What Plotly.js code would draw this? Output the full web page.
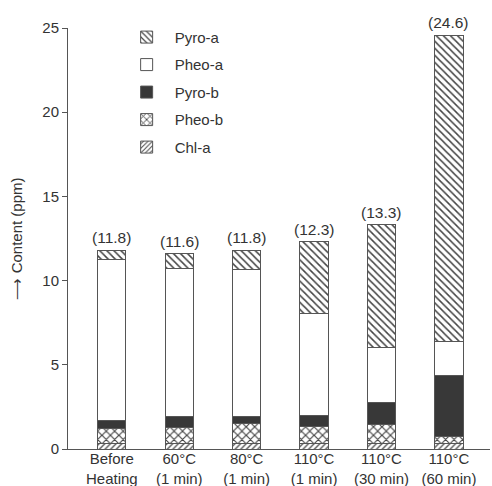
<!DOCTYPE html>
<html>
<head>
<meta charset="utf-8">
<script src="https://cdn.plot.ly/plotly-3.0.1.min.js"></script>
<style>html,body{margin:0;padding:0;background:#fff;}#chart{width:492px;height:486px;}</style>
</head>
<body>
<div id="chart"></div>
<script>
const categories = ["Before<br>Heating", "60°C<br>(1 min)", "80°C<br>(1 min)", "110°C<br>(1 min)", "110°C<br>(30 min)", "110°C<br>(60 min)"];
const chlA  = [0.30, 0.30, 0.30, 0.30, 0.30, 0.30];
const pheoB = [0.93, 0.96, 1.24, 1.02, 1.17, 0.47];
const pyroB = [0.45, 0.66, 0.38, 0.64, 1.30, 3.62];
const pheoA = [9.58, 8.81, 8.75, 6.06, 3.27, 1.98];
const pyroA = [0.54, 0.89, 1.13, 4.30, 7.30, 18.20];
const totals = [11.8, 11.6, 11.8, 12.3, 13.3, 24.6];
const totalLabels = ["(11.8)", "(11.6)", "(11.8)", "(12.3)", "(13.3)", "(24.6)"];

const lineStyle = {color: '#555', width: 1};
function barTrace(name, y, pattern, color, rank) {
  return {
    type: 'bar', name: name, x: categories, y: y, legendgroup: name, legendrank: rank,
    marker: {color: color, line: lineStyle, pattern: pattern},
    hoverinfo: 'skip'
  };
}
const traces = [
  barTrace('Chl-a', chlA, {shape: '/', fgcolor: '#444', bgcolor: '#fff', size: 4, solidity: 0.3}, '#fff', 5),
  barTrace('Pheo-b', pheoB, {shape: 'x', fgcolor: '#444', bgcolor: '#fff', size: 6, solidity: 0.35}, '#fff', 4),
  barTrace('Pyro-b', pyroB, {shape: ''}, '#383838', 3),
  barTrace('Pheo-a', pheoA, {shape: ''}, '#fff', 2),
  barTrace('Pyro-a', pyroA, {shape: '\\', fgcolor: '#444', bgcolor: '#fff', size: 5, solidity: 0.3}, '#fff', 1)
];

const annotations = categories.map((c, i) => ({
  x: c, y: totals[i], xref: 'x', yref: 'y', text: totalLabels[i],
  showarrow: false, yanchor: 'bottom', yshift: 2,
  font: {family: 'Liberation Sans, Arial, sans-serif', size: 15.5, color: '#333'}
}));

const layout = {
  width: 492, height: 486,
  margin: {l: 68, r: 2, t: 28, b: 37},
  paper_bgcolor: '#fff', plot_bgcolor: '#fff',
  font: {family: 'Liberation Sans, Arial, sans-serif', size: 15, color: '#333'},
  barmode: 'stack', bargap: 0.58,
  showlegend: true,
  legend: {x: 0.12, y: 1.017, xanchor: 'left', yanchor: 'top', traceorder: 'grouped',
           tracegroupgap: 5, itemwidth: 46, bgcolor: 'rgba(0,0,0,0)', font: {size: 15, color: '#333'}},
  annotations: annotations,
  xaxis: {
    type: 'category', range: [-0.65, 5.61], showline: true, linecolor: '#555', linewidth: 1,
    ticks: '', showgrid: false, zeroline: false, tickfont: {size: 15, color: '#333'},
    ticklabelstandoff: -4
  },
  yaxis: {
    range: [0, 25], tickvals: [0, 5, 10, 15, 20, 25], showline: true, linecolor: '#555', linewidth: 1,
    ticks: 'outside', ticklen: 5, tickcolor: '#555', showgrid: false, zeroline: false,
    tickfont: {size: 15, color: '#333'},
    title: {text: '⟶ Content (ppm)', font: {size: 15, color: '#333'}, standoff: 16}
  }
};
Plotly.newPlot('chart', traces, layout, {displayModeBar: false, staticPlot: true});
</script>
</body>
</html>
